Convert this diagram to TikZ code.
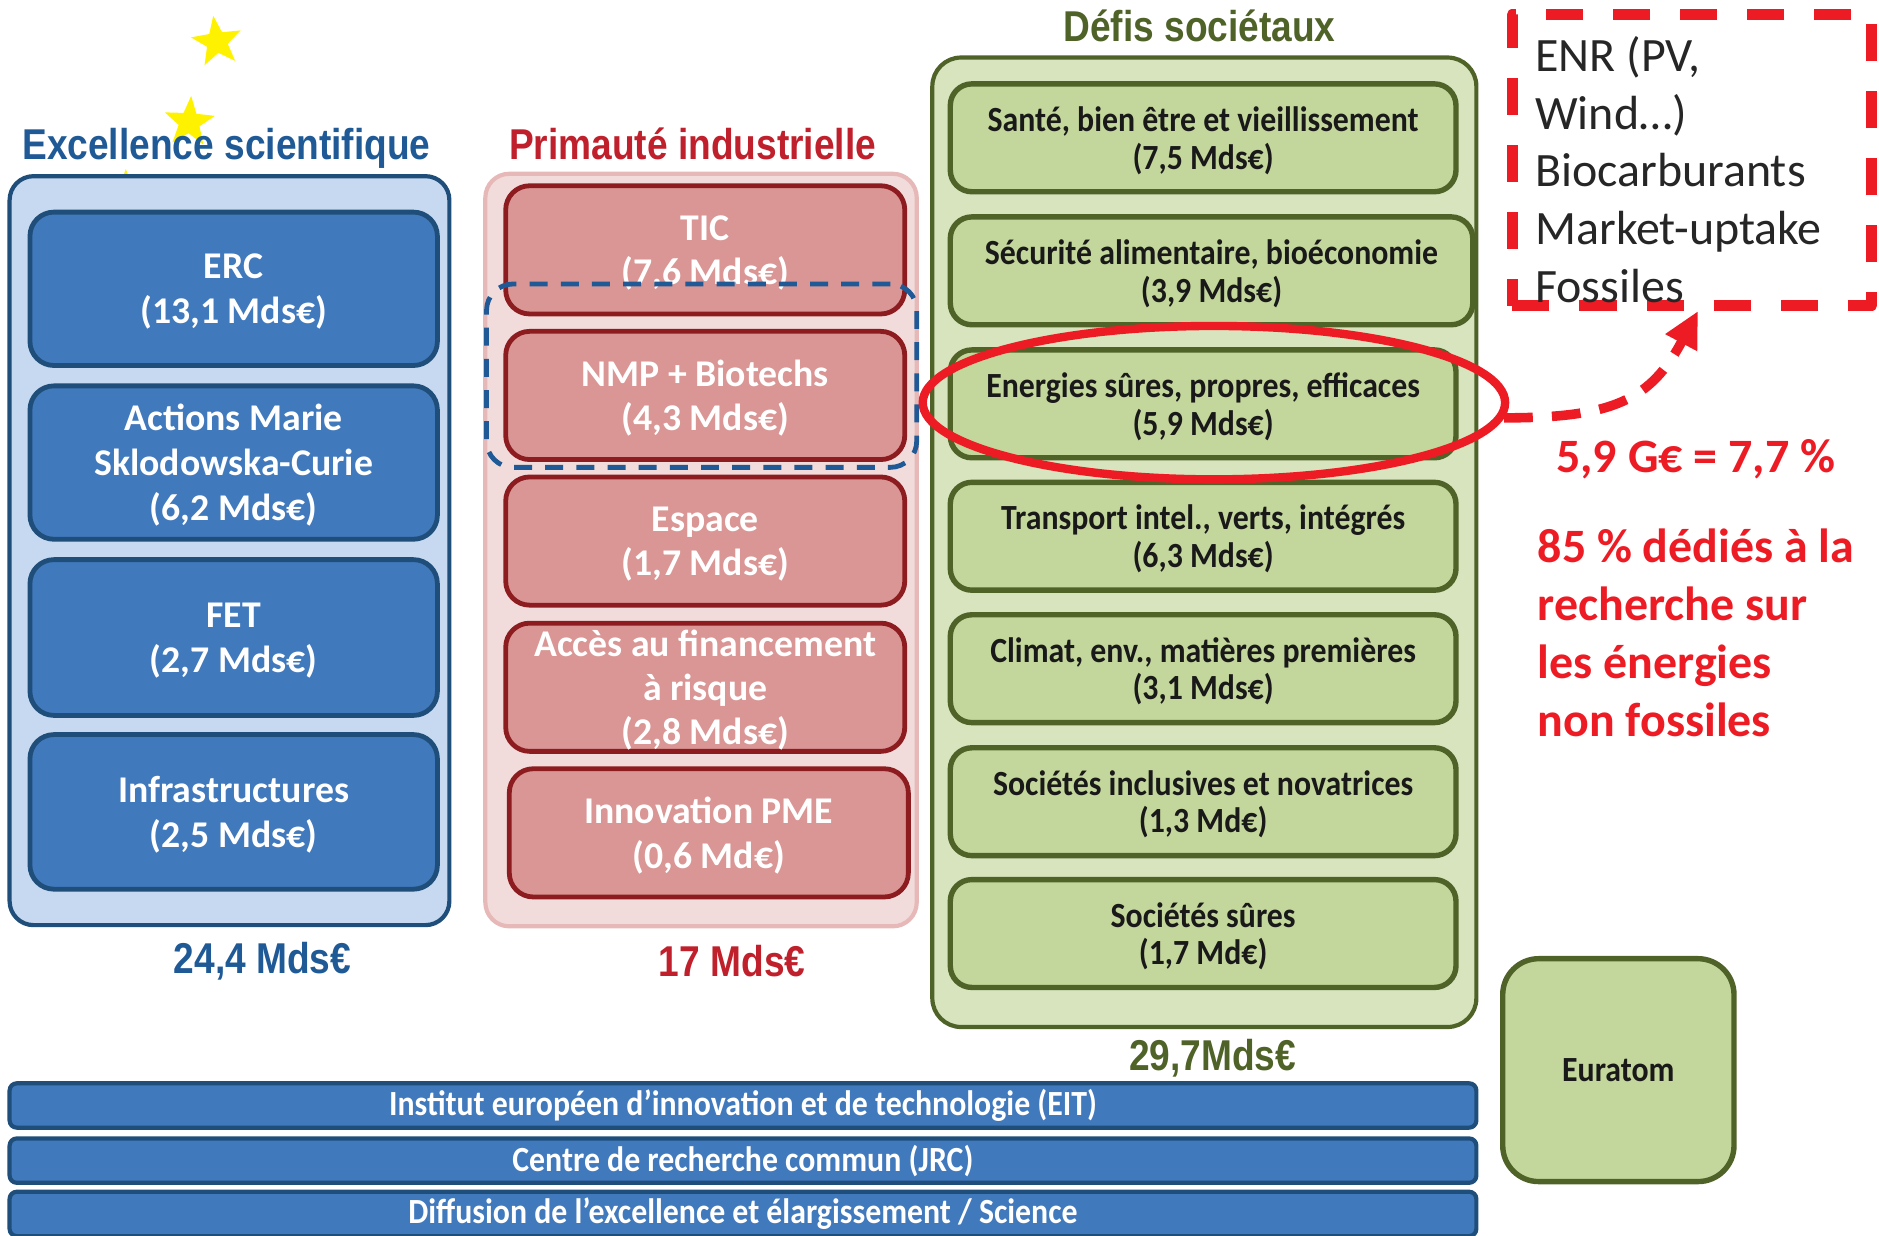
\documentclass[tikz,border=0pt]{standalone}
\usepackage{fontspec}
\setmainfont{Carlito}
\newfontfamily\headfont[FakeStretch=0.86]{Liberation Sans}
\newfontfamily\narrowcal[FakeStretch=0.9]{Carlito}
\usetikzlibrary{shapes.geometric,arrows.meta}
\definecolor{exblue}{HTML}{1F5A96}
\definecolor{exborder}{HTML}{1F4E7A}
\definecolor{expanel}{HTML}{C6D9F0}
\definecolor{exbox}{HTML}{4179BD}
\definecolor{pipanel}{HTML}{F2DCDB}
\definecolor{piborder}{HTML}{E6B9B8}
\definecolor{pibox}{HTML}{D99694}
\definecolor{piline}{HTML}{8C1C1F}
\definecolor{pired}{HTML}{C0202B}
\definecolor{dfpanel}{HTML}{D7E4BD}
\definecolor{dfbox}{HTML}{C3D69B}
\definecolor{dfline}{HTML}{4F6228}
\definecolor{alert}{HTML}{ED1C24}
\definecolor{eustar}{HTML}{FFF200}
\tikzset{
  panel/.style={draw,rounded corners=20pt,line width=3.5pt,inner sep=0pt},
  bluebox/.style={draw=exborder,fill=exbox,text=white,rounded corners=20pt,line width=4pt,
    minimum width=340pt,minimum height=128pt,align=center,inner sep=0pt,text depth=0pt,
    font=\fontsize{31.5}{37.5}\selectfont\bfseries},
  redbox/.style={draw=piline,fill=pibox,text=white,rounded corners=20pt,line width=4pt,
    minimum width=333pt,minimum height=107pt,align=center,inner sep=0pt,text depth=0pt,
    font=\fontsize{31.5}{37}\selectfont\bfseries},
  greenbox/.style={draw=dfline,fill=dfbox,text=black!90,rounded corners=18pt,line width=4.5pt,
    minimum width=422pt,minimum height=90pt,align=center,inner sep=0pt,text depth=0pt,
    font=\narrowcal\fontsize{29.5}{31.5}\selectfont\bfseries},
  bar/.style={draw=exborder,fill=exbox,text=white,rounded corners=6pt,line width=3.5pt,
    minimum width=1224pt,minimum height=37pt,inner sep=0pt,
    font=\narrowcal\fontsize{29.5}{30}\selectfont\bfseries},
  heading/.style={font=\headfont\fontsize{36}{40}\selectfont\bfseries,inner sep=0pt},
  eustarnode/.style={star,star points=5,star point ratio=2.4,fill=eustar,minimum size=44pt,inner sep=0pt}
}
\begin{document}
\begin{tikzpicture}[x=1pt,y=-1pt,line join=round]
\useasboundingbox (0,0) rectangle (1568,1031);
\node[eustarnode,rotate=8] (star1) at (181,35) {};
\node[eustarnode,rotate=-4] (star2) at (158,102) {};
\node[eustarnode] (star3) at (105,163) {};

% les trois piliers
\node[panel,draw=exborder,fill=expanel,minimum width=367pt,minimum height=625pt] (expanelnode) at (191.5,459.5) {};
\node[panel,draw=piborder,fill=pipanel,minimum width=360pt,minimum height=628pt] (pipanelnode) at (585,459) {};
\node[panel,draw=dfline,fill=dfpanel,minimum width=454pt,minimum height=809pt,rounded corners=24pt] (dfpanelnode) at (1005,452.5) {};

\node[heading,text=exblue,text depth=0pt] (exhead) at (189,120) {Excellence scientifique};
\node[heading,text=pired] (pihead) at (578,120) {Primauté industrielle};
\node[heading,text=dfline] (dfhead) at (1001,22) {Défis sociétaux};

\node[bluebox] (erc) at (195,241) {ERC\\(13,1 Mds€)};
\node[bluebox] (msca) at (195,386) {Actions Marie\\Sklodowska-Curie\\(6,2 Mds€)};
\node[bluebox,minimum height=130pt] (fet) at (195,532) {FET\\(2,7 Mds€)};
\node[bluebox,minimum height=129pt] (infra) at (195,677.5) {Infrastructures\\(2,5 Mds€)};

\node[redbox] (tic) at (588.5,208.5) {TIC\\(7,6 Mds€)};
\node[redbox] (nmp) at (588.5,330) {NMP + Biotechs\\(4,3 Mds€)};
\node[redbox] (espace) at (588.5,451.5) {Espace\\(1,7 Mds€)};
\node[redbox] (risque) at (588.5,573.5) {Accès au financement\\à risque\\(2,8 Mds€)};
\node[redbox] (pme) at (591.5,695) {Innovation PME\\(0,6 Md€)};
\node[draw=exblue,line width=4pt,dash pattern=on 15pt off 11pt,rounded corners=22pt,
  minimum width=359pt,minimum height=153pt] (nmpgroup) at (585.5,313.5) {};

\node[greenbox] (sante) at (1004,115) {Santé, bien être et vieillissement\\(7,5 Mds€)};
\node[greenbox,minimum width=436pt] (secu) at (1011,226) {Sécurité alimentaire, bioéconomie\\(3,9 Mds€)};
\node[greenbox] (energie) at (1004,337) {Energies sûres, propres, efficaces\\(5,9 Mds€)};
\node[greenbox] (transport) at (1004,447.5) {Transport intel., verts, intégrés\\(6,3 Mds€)};
\node[greenbox] (climat) at (1004,558) {Climat, env., matières premières\\(3,1 Mds€)};
\node[greenbox] (inclusif) at (1004,669) {Sociétés inclusives et novatrices\\(1,3 Md€)};
\node[greenbox] (surete) at (1004,779) {Sociétés sûres\\(1,7 Md€)};

\node[heading,text=exblue] (extotal) at (219,802) {24,4 Mds€};
\node[heading,text=pired] (pitotal) at (611,802) {17 Mds€};
\node[heading,text=dfline] (dftotal) at (1012,883) {29,7Mds€};

\node[greenbox,minimum width=193pt,minimum height=186pt,rounded corners=30pt] (euratom) at (1350.5,893) {Euratom};

\node[bar] (eit) at (620,922.5) {Institut européen d’innovation et de technologie (EIT)};
\node[bar] (jrc) at (620,968.5) {Centre de recherche commun (JRC)};
\node[bar] (diffusion) at (620,1013) {Diffusion de l’excellence et élargissement / Science};

% zoom sur l'energie
\node[ellipse,draw=alert,line width=7pt,minimum width=486pt,minimum height=128pt] (energyring) at (1013,336) {};
\node[draw=alert,line width=9pt,dash pattern=on 31pt off 25pt,minimum width=300pt,minimum height=243pt] (enrbox) at (1412,133.5) {};
\node[anchor=west,align=left,text=black!85,font=\fontsize{40}{48.25}\selectfont,inner sep=0pt] (enrtext) at (1281,141.5)
  {ENR (PV,\\Wind…)\\Biocarburants\\Market-uptake\\Fossiles};
\draw[alert,line width=8pt,dash pattern=on 24pt off 16pt,-{Triangle[length=30pt,width=28pt]}]
  (energyring.-3) .. controls +(90,0) and +(-40,75) .. ([xshift=5pt]enrbox.south);
\node[text=alert,font=\fontsize{40}{48}\selectfont\bfseries,inner sep=0pt] (share) at (1415,383) {5,9 G€ = 7,7 \%};
\node[anchor=west,align=left,text=alert,font=\fontsize{40}{48.3}\selectfont\bfseries,inner sep=0pt] (nonfossil) at (1283,528)
  {85 \% dédiés à la\\recherche sur\\les énergies\\non fossiles};
\end{tikzpicture}
\end{document}
